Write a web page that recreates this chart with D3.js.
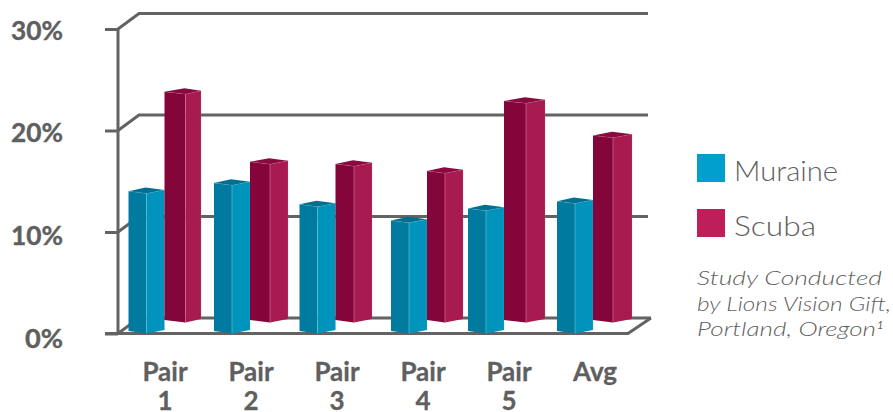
<!DOCTYPE html>
<html>
<head>
<meta charset="utf-8">
<style>
	html, body { margin: 0; padding: 0; background: #fff; }
	svg { display: block; }
	text { fill: #5f5f60; font-family: Lato, sans-serif; }
</style>
</head>
<body>
<svg width="893" height="412"></svg>
<script src="https://cdnjs.cloudflare.com/ajax/libs/d3/7.8.5/d3.min.js"></script>
<script>
var categories = ["Pair 1", "Pair 2", "Pair 3", "Pair 4", "Pair 5", "Avg"];
var muraineValues = [13.8, 14.6, 12.5, 10.9, 12.1, 12.8];
var scubaValues = [22.5, 15.6, 15.4, 14.7, 21.6, 18.2];
var yTicks = [0, 10, 20, 30];
var seriesNames = ["Muraine", "Scuba"];
var noteLines = ["Study Conducted", "by Lions Vision Gift,", "Portland, Oregon"];

var svg = d3.select("svg");
var gray = "#636363";
var axisWidth = 3;

var x = d3.scaleBand().domain(categories).range([122, 638]);
var y = d3.scaleLinear().domain([0, 30]).range([333.5, 29]);
// tick labels sit a little further apart than the ticks
var yLabel = d3.scaleLinear().domain([0, 30]).range([347, 39]);

// the wall is the front axis pushed back by this much
var wallX = 21, wallY = -15.5;

// grid on the back wall + the diagonal joining it to the axis
var grid = svg.append("g").attr("fill", "none").attr("stroke", gray).attr("stroke-width", axisWidth);
grid.selectAll("path")
	.data(yTicks)
	.enter().append("path")
	.attr("d", function (d) {
		return "M118," + y(d) + "L" + (118 + wallX) + "," + (y(d) + wallY) + "H" + (d === 0 ? 651 : 648);
	});

// floor edges
grid.append("path").attr("d", "M105," + y(0) + "H628L651," + (y(0) + wallY));

var yAxis = svg.append("g")
	.attr("transform", "translate(118,0)")
	.call(d3.axisLeft(y).tickValues(yTicks).tickSize(13).tickPadding(42).tickFormat(function (d) { return d + "%"; }));
yAxis.select(".domain").attr("stroke", gray).attr("stroke-width", axisWidth).attr("d", "M0," + y(30) + "V" + y(0));
yAxis.selectAll(".tick line").attr("stroke", gray).attr("stroke-width", axisWidth);
yAxis.selectAll(".tick text")
	.attr("font-family", "Lato, sans-serif")
	.attr("font-size", 27)
	.attr("font-weight", 700)
	.attr("stroke", "#5f5f60")
	.attr("stroke-width", 0.4)
	.attr("dy", 0)
	.attr("y", function (d) { return yLabel(d) - y(d); })
	.attr("textLength", function (d) { return d === 0 ? 38 : 52; })
	.attr("lengthAdjust", "spacingAndGlyphs");

// hand placed bars in the original are not evenly spaced
var pairNudge = [-0.5, -1, -1.5, 4, -5, -2];
var scubaWidth = [36.5, 38, 36.5, 36, 41, 39];
var scubaFront = [21, 20, 18.5, 18, 22, 20];

var line = d3.line();
var barsG = svg.append("g");

function drawBar(left, front, right, base, value, c) {
	var top = y(value) - (y(0) - base);
	var faces = [
		{ pts: [[left, top - 2.3], [front, top], [front, base], [left, base - 2.5]], fill: c.left },
		{ pts: [[front, top], [right, top - 3.5], [right, base - 3.5], [front, base]], fill: c.right },
		{ pts: [[left, top - 2.3], [front - 1, top - 6], [right, top - 3.5], [front, top]], fill: c.top }
	];
	var g = barsG.append("g");
	g.selectAll("path")
		.data(faces)
		.enter().append("path")
		.attr("d", function (f) { return line(f.pts) + "Z"; })
		.attr("fill", function (f) { return f.fill; });
	// thin light edges
	g.append("path")
		.attr("d", line([[front, top], [front, base]]))
		.attr("stroke", c.edge).attr("stroke-width", 0.7).attr("fill", "none");
	g.append("path")
		.attr("d", line([[left, top - 2.3], [front, top], [right, top - 3.5], [right, base - 3.5]]))
		.attr("stroke", c.edge).attr("stroke-width", 0.5).attr("stroke-opacity", 0.45).attr("fill", "none");
}

var muraineColors = { left: "#007a9e", right: "#0093bc", top: "#006f90", edge: "#62bcd6" };
var scubaColors = { left: "#84053a", right: "#a71b50", top: "#8a0a40", edge: "#cf6f95" };

categories.forEach(function (c, i) {
	var mid = x(c) + x.bandwidth() / 2 + pairNudge[i];
	drawBar(mid - 36, mid - 18, mid, y(0), muraineValues[i], muraineColors);
	drawBar(mid, mid + scubaFront[i], mid + scubaWidth[i], y(0) - 11, scubaValues[i], scubaColors);
});

// category labels wrap on the space
var xAxis = svg.append("g")
	.attr("transform", "translate(0,360)")
	.call(d3.axisBottom(x).tickSize(0).tickPadding(0));
xAxis.select(".domain").remove();
xAxis.selectAll(".tick text")
	.attr("font-family", "Lato, sans-serif")
	.attr("font-size", 26)
	.attr("font-weight", 700)
	.attr("stroke", "#5f5f60")
	.attr("stroke-width", 0.3)
	.attr("dy", 0)
	.attr("y", 21)
	.text(null)
	.each(function (d) {
		var el = d3.select(this);
		d.split(" ").forEach(function (w, j) {
			el.append("tspan").attr("x", 0).attr("y", 21 + j * 29).text(w);
		});
	});

// legend
var legendColors = ["#009fce", "#be1e5a"];
var legendWidths = [104, 82];
var legend = svg.append("g").selectAll("g")
	.data(seriesNames)
	.enter().append("g")
	.attr("transform", function (d, i) { return "translate(697," + (154 + i * 55) + ")"; });
legend.append("rect")
	.attr("width", 28).attr("height", 28)
	.attr("fill", function (d, i) { return legendColors[i]; });
legend.append("text")
	.attr("x", 37).attr("y", 27)
	.attr("font-size", 27)
	.attr("font-weight", 300)
	.attr("textLength", function (d, i) { return legendWidths[i]; })
	.attr("lengthAdjust", "spacingAndGlyphs")
	.text(function (d) { return d; });

// study note
var noteWidths = [185, 194, 179];
svg.append("g").selectAll("text")
	.data(noteLines)
	.enter().append("text")
	.attr("x", 697)
	.attr("y", function (d, i) { return 285 + i * 25.5; })
	.attr("font-size", 20)
	.attr("font-style", "italic")
	.attr("font-weight", 300)
	.attr("textLength", function (d, i) { return noteWidths[i]; })
	.attr("lengthAdjust", "spacingAndGlyphs")
	.text(function (d) { return d; });
svg.append("text")
	.attr("x", 877).attr("y", 329)
	.attr("font-size", 11)
	.attr("font-style", "italic")
	.text("1");
</script>
</body>
</html>
